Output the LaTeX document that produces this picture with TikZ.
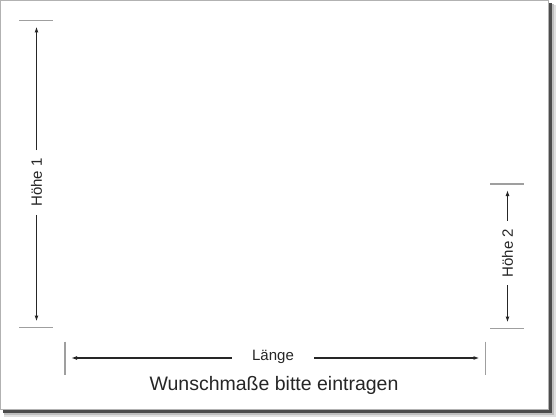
\documentclass[tikz,border=0pt]{standalone}
\usepackage{fontspec}
\setmainfont{Liberation Sans}
\usetikzlibrary{arrows.meta}
\tikzset{
  tick/.style = {draw=gray!75, line width=1.2pt},
  dimline/.style = {draw=black!85, line width=1.2pt, -{Latex[length=6pt,width=4pt]}, shorten >=6pt},
  dimlabel/.style = {font=\fontsize{15}{17}\selectfont, text=black!85, inner xsep=8pt, inner ysep=0pt},
}
\begin{document}
\begin{tikzpicture}[x=1pt,y=-1pt]
        \useasboundingbox (0,0) rectangle (560,420);
        \fill[white] (0,0) rectangle (560,420);
        %Shadow
        \fill[gray!25] (4,5) rectangle (555.5,416.5);
        \fill[gray!50] (3.5,4) rectangle (553.5,414.5);
        \fill[black!70] (3,3) rectangle (551.5,412.5);
        %Panel
        \filldraw[fill=white, draw=gray!60, line width=1pt] (0.5,0.5) rectangle (548,409.5);
        %Hoehe 1
        \draw[tick] (19,20.5) -- (53,20.5);
        \draw[tick] (19,327.5) -- (53,327.5);
        \coordinate (h1top) at (36.5,20.5);
        \coordinate (h1bot) at (36.5,327.5);
        \node[dimlabel, rotate=90] (h1) at (36.5,182.5) {Höhe 1};
        \draw[dimline] (h1.east) -- (h1top);
        \draw[dimline] (h1.west) -- (h1bot);
        %Hoehe 2
        \draw[tick] (490,184) -- (524,184);
        \draw[tick] (490,328.5) -- (524,328.5);
        \coordinate (h2top) at (507.5,184);
        \coordinate (h2bot) at (507.5,328.5);
        \node[dimlabel, rotate=90] (h2) at (507.5,253) {Höhe 2};
        \draw[dimline] (h2.east) -- (h2top);
        \draw[dimline] (h2.west) -- (h2bot);
        %Laenge
        \draw[tick] (65,341.5) -- (65,375);
        \draw[tick] (485.5,341.5) -- (485.5,375);
        \coordinate (lleft) at (65,358);
        \coordinate (lright) at (485.5,358);
        \node[dimlabel, inner xsep=20pt] (len) at (273,357) {Länge};
        \draw[dimline] (len.west |- lleft) -- (lleft);
        \draw[dimline] (len.east |- lright) -- (lright);
        %Caption
        \node[font=\fontsize{19.5}{22}\selectfont, text=black!85] (caption) at (274,385) {Wunschmaße bitte eintragen};
    \end{tikzpicture}
\end{document}
